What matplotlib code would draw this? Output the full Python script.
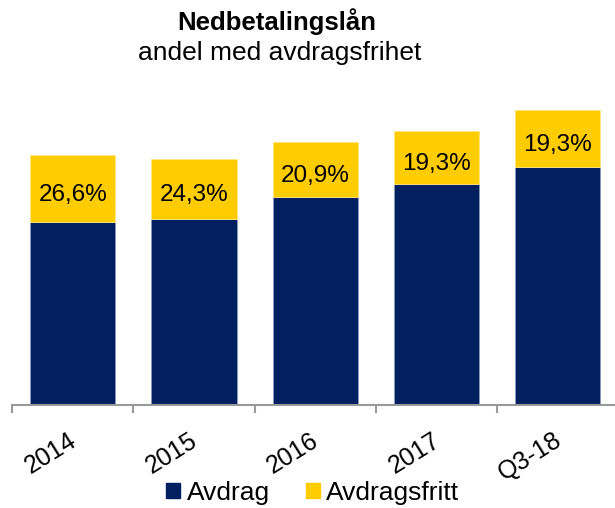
import matplotlib.pyplot as plt
from matplotlib.patches import Patch

plt.rcParams['font.family'] = ['Liberation Sans', 'DejaVu Sans']

# data
categories = ['2014', '2015', '2016', '2017', 'Q3-18']
avdrag = [183, 186, 208, 221, 238]
avdragsfritt = [67, 60, 55, 53, 57]
labels = ['26,6%', '24,3%', '20,9%', '19,3%', '19,3%']

navy = '#021f60'
yellow = '#ffcc00'

fig = plt.figure(figsize=(6.15, 5.08), dpi=100)
ax = fig.add_axes([12 / 615, 103 / 508, 606.5 / 615, 300 / 508])

x = range(len(categories))
ax.bar(x, avdrag, width=0.703, color=navy, edgecolor='#8a9cc0', linewidth=0.6)
ax.bar(x, avdragsfritt, width=0.703, bottom=avdrag, color=yellow,
       edgecolor='#ffe680', linewidth=0.6)

for i in x:
    ax.annotate(labels[i], xy=(i, avdrag[i] + avdragsfritt[i] / 2),
                xytext=(0, -4.5), textcoords='offset points',
                ha='center', va='center', fontsize=17.5, color='black')

ax.set_xlim(-0.5, 4.5)
ax.set_ylim(0, 300)

for s in ['top', 'right', 'left']:
    ax.spines[s].set_visible(False)
ax.spines['bottom'].set_color('#999999')
ax.spines['bottom'].set_linewidth(1.5)
ax.set_yticks([])

ax.set_xticks([-0.5, 0.5, 1.5, 2.5, 3.5])
ax.set_xticklabels([])
ax.tick_params(axis='x', length=6, width=1.5, color='#999999', direction='out')

# rotated category labels
for i, c in enumerate(categories):
    ax.annotate(c, xy=(i, 0), xycoords=('data', 'axes fraction'),
                xytext=(1, -24), textcoords='offset points',
                rotation=32, rotation_mode='anchor', ha='right', va='center',
                fontsize=18)

# title
fig.text(277 / 615, 1 - 30 / 508, 'Nedbetalingslån', ha='center', va='baseline',
         fontsize=18.5, fontweight='bold')
fig.text(280 / 615, 1 - 60 / 508, 'andel med avdragsfrihet', ha='center',
         va='baseline', fontsize=19)

handles = [Patch(color=navy, label='Avdrag'), Patch(color=yellow, label='Avdragsfritt')]
fig.legend(handles=handles, loc='center', bbox_to_anchor=(313 / 615, 1 - 493 / 508),
           ncol=2, frameon=False, fontsize=19, handlelength=0.51, handleheight=0.51,
           handletextpad=0.25, columnspacing=1.39, borderpad=0)

fig.savefig('out.png', dpi=100)
